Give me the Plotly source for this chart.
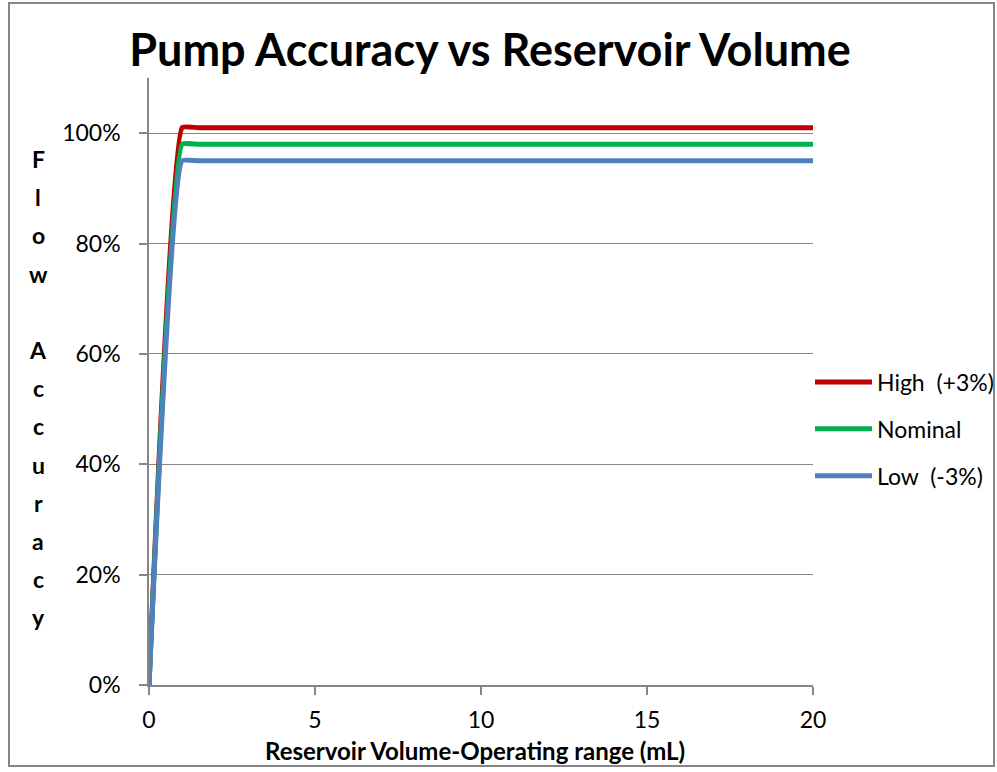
import plotly.graph_objects as go

volume_ml = [0, 1, 1.5, 20]
high = [0, 1.01, 1.01, 1.01]
nominal = [0, 0.98, 0.98, 0.98]
low = [0, 0.95, 0.95, 0.95]
series_names = ["High  (+3%)", "Nominal", "Low  (-3%)"]
series_colors = ["#C00000", "#00B050", "#4F81BD"]
y_ticks = [0, 0.2, 0.4, 0.6, 0.8, 1.0]
x_ticks = [0, 5, 10, 15, 20]

FONT = "Lato, Carlito, Calibri, sans-serif"

fig = go.Figure()
for i, (name, ys, col) in enumerate(zip(series_names, [high, nominal, low], series_colors)):
    fig.add_trace(go.Scatter(
        x=volume_ml, y=ys, mode="lines", name=name,
        line=dict(color=col, width=5, shape="spline", smoothing=0.35),
        legendgroup=str(i),
    ))

L, R, T, B = 149, 813, 78, 685
W, H = 997, 772
pw, ph = R - L, B - T

fig.update_layout(
    width=W, height=H, autosize=False,
    margin=dict(l=L, r=W - R, t=T, b=H - B, pad=0, autoexpand=False),
    paper_bgcolor="white", plot_bgcolor="white",
    font=dict(family=FONT, size=23, color="#000000"),
    title=dict(text="<b>Pump Accuracy vs Reservoir Volume</b>",
               x=490 / W, xanchor="center", y=1 - 50 / H, yanchor="middle",
               font=dict(size=45, family=FONT)),
    showlegend=True,
    legend=dict(xref="container", yref="container",
                x=810 / W, xanchor="left", y=1 - 429 / H, yanchor="middle",
                traceorder="grouped", tracegroupgap=14, itemwidth=57,
                font=dict(size=23, family=FONT), bgcolor="rgba(0,0,0,0)"),
    xaxis=dict(range=[0, 20], tickvals=x_ticks, showgrid=False, zeroline=False,
               showline=True, linecolor="#868686", linewidth=1.5,
               ticks="outside", ticklen=8, tickcolor="#868686", tickwidth=1.5,
               ticklabelstandoff=6,
               tickfont=dict(size=23, family=FONT)),
    yaxis=dict(range=[0, 1.1], tickvals=y_ticks, tickformat=".0%",
               showgrid=True, gridcolor="#868686", gridwidth=1, zeroline=False,
               showline=True, linecolor="#868686", linewidth=1.5,
               ticks="outside", ticklen=8, tickcolor="#868686", tickwidth=1.5,
               ticklabelstandoff=14,
               tickfont=dict(size=23, family=FONT)),
)

fig.add_annotation(
    text="<b>Reservoir Volume-Operating range (mL)</b>",
    xref="paper", yref="paper", x=(475 - L) / pw, y=(B - 750) / ph,
    xanchor="center", yanchor="middle", showarrow=False,
    font=dict(size=24, family=FONT, color="#000000"),
)

letters = list("Flow") + [""] + list("Accuracy")
top_y, step = 159, 38.2
for k, c in enumerate(letters):
    if not c:
        continue
    fig.add_annotation(
        text=f"<b>{c}</b>", xref="paper", yref="paper",
        x=(38 - L) / pw, y=(B - (top_y + k * step)) / ph,
        xanchor="center", yanchor="middle", showarrow=False,
        font=dict(size=23, family=FONT, color="#000000"),
    )

fig.add_shape(type="rect", xref="paper", yref="paper",
              x0=(9 - L) / pw, x1=(994 - L) / pw,
              y0=(B - 766) / ph, y1=(B - 3) / ph,
              line=dict(color="#868686", width=2), fillcolor="rgba(0,0,0,0)", layer="below")

fig.write_html(
    "out.html",
    config={"responsive": False, "displayModeBar": False},
    default_width=f"{W}px", default_height=f"{H}px",
    post_script="document.documentElement.style.overflow='hidden';"
                "document.body.style.margin='0px';document.body.style.overflow='hidden';",
)
